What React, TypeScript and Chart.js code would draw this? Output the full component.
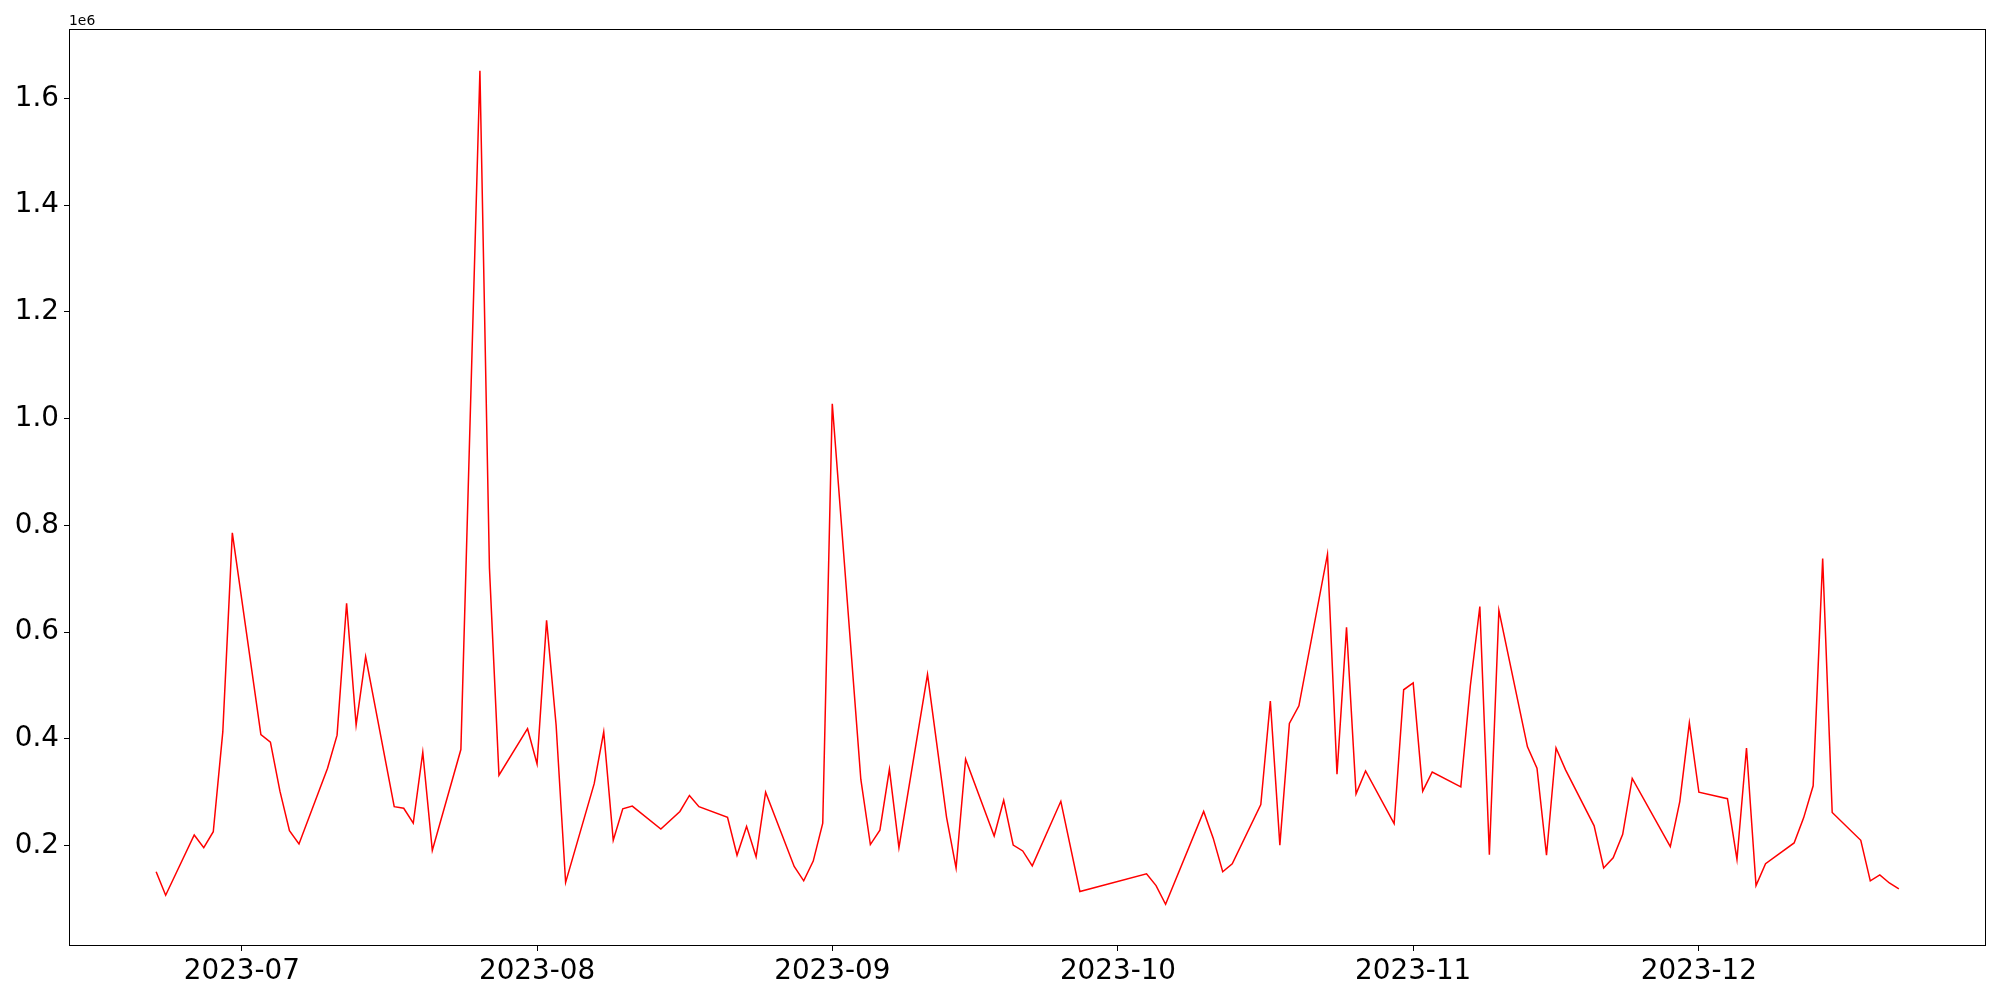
import React, { useEffect, useRef } from "react";
import Chart from "chart.js/auto";

// Trading dates (weekdays, holidays skipped)
const dates: string[] = [
  "2023-06-22", "2023-06-23", "2023-06-26", "2023-06-27", "2023-06-28", "2023-06-29", "2023-06-30",
  "2023-07-03", "2023-07-04", "2023-07-05", "2023-07-06", "2023-07-07",
  "2023-07-10", "2023-07-11", "2023-07-12", "2023-07-13", "2023-07-14",
  "2023-07-17", "2023-07-18", "2023-07-19", "2023-07-20", "2023-07-21",
  "2023-07-24", "2023-07-26", "2023-07-27", "2023-07-28",
  "2023-07-31", "2023-08-01", "2023-08-02", "2023-08-03", "2023-08-04",
  "2023-08-07", "2023-08-08", "2023-08-09", "2023-08-10", "2023-08-11",
  "2023-08-14", "2023-08-16", "2023-08-17", "2023-08-18",
  "2023-08-21", "2023-08-22", "2023-08-23", "2023-08-24", "2023-08-25",
  "2023-08-28", "2023-08-29", "2023-08-30", "2023-08-31", "2023-09-01",
  "2023-09-04", "2023-09-05", "2023-09-06", "2023-09-07", "2023-09-08",
  "2023-09-11", "2023-09-13", "2023-09-14", "2023-09-15",
  "2023-09-18", "2023-09-19", "2023-09-20", "2023-09-21", "2023-09-22",
  "2023-09-25", "2023-09-27",
  "2023-10-04", "2023-10-05", "2023-10-06",
  "2023-10-10", "2023-10-11", "2023-10-12", "2023-10-13",
  "2023-10-16", "2023-10-17", "2023-10-18", "2023-10-19", "2023-10-20",
  "2023-10-23", "2023-10-24", "2023-10-25", "2023-10-26", "2023-10-27",
  "2023-10-30", "2023-10-31", "2023-11-01", "2023-11-02", "2023-11-03",
  "2023-11-06", "2023-11-07", "2023-11-08", "2023-11-09", "2023-11-10",
  "2023-11-13", "2023-11-14", "2023-11-15", "2023-11-16", "2023-11-17",
  "2023-11-20", "2023-11-21", "2023-11-22", "2023-11-23", "2023-11-24",
  "2023-11-28", "2023-11-29", "2023-11-30", "2023-12-01",
  "2023-12-04", "2023-12-05", "2023-12-06", "2023-12-07", "2023-12-08",
  "2023-12-11", "2023-12-12", "2023-12-13", "2023-12-14", "2023-12-15",
  "2023-12-18", "2023-12-19", "2023-12-20", "2023-12-21", "2023-12-22",
];

const values: number[] = [
  151000, 107000, 220000, 196000, 226000, 413000, 786000,
  408000, 394000, 302000, 228000, 203000,
  345000, 407000, 654000, 426000, 554000,
  273000, 270000, 242000, 375000, 191000,
  380000, 1652000, 720000, 332000,
  419000, 353000, 622000, 426000, 131000,
  316000, 413000, 210000, 269000, 274000,
  231000, 264000, 294000, 273000,
  253000, 182000, 236000, 179000, 300000,
  161000, 134000, 171000, 242000, 1028000,
  324000, 202000, 229000, 343000, 196000,
  521000, 253000, 158000, 362000,
  218000, 285000, 201000, 190000, 162000,
  283000, 114000,
  147000, 125000, 90000,
  264000, 214000, 151000, 166000,
  277000, 471000, 201000, 429000, 462000,
  746000, 334000, 609000, 297000, 340000,
  241000, 492000, 505000, 302000, 338000,
  310000, 499000, 648000, 183000, 641000,
  385000, 345000, 182000, 383000, 342000,
  237000, 158000, 177000, 221000, 326000,
  198000, 283000, 430000, 300000,
  288000, 174000, 383000, 125000, 166000,
  205000, 252000, 312000, 738000, 262000,
  210000, 134000, 145000, 130000, 119000,
];

const xTickLabels: string[] = ["2023-07", "2023-08", "2023-09", "2023-10", "2023-11", "2023-12"];
const yTickValues: number[] = [200000, 400000, 600000, 800000, 1000000, 1200000, 1400000, 1600000];
const OFFSET_LABEL = "1e6";
const SCALE = 1e6;

const toMs = (s: string) => {
  const [y, m, d] = s.split("-").map(Number);
  return Date.UTC(y, m - 1, d);
};

export default function App() {
  const ref = useRef<HTMLCanvasElement | null>(null);

  useEffect(() => {
    if (!ref.current) return;
    const pts = dates.map((d, i) => ({ x: toMs(d), y: values[i] }));
    const xs = pts.map((p) => p.x);
    const ys = values;
    const xMin0 = Math.min(...xs), xMax0 = Math.max(...xs);
    const yMin0 = Math.min(...ys), yMax0 = Math.max(...ys);
    const xm = (xMax0 - xMin0) * 0.05;
    const ym = (yMax0 - yMin0) * 0.05;
    const xTicks = xTickLabels.map((l) => toMs(l + "-01"));

    const framePlugin = {
      id: "frame",
      afterDraw(chart: any) {
        const { ctx, chartArea: a } = chart;
        ctx.save();
        ctx.strokeStyle = "#000";
        ctx.lineWidth = 1;
        ctx.strokeRect(Math.round(a.left) + 0.5, Math.round(a.top) + 0.5, Math.round(a.right - a.left) - 1, Math.round(a.bottom - a.top) - 1);
        ctx.fillStyle = "#000";
        ctx.font = '13.9px "DejaVu Sans"';
        ctx.textAlign = "left";
        ctx.textBaseline = "alphabetic";
        ctx.fillText(OFFSET_LABEL, a.left, a.top - 4);
        ctx.restore();
      },
    };

    const chart = new Chart(ref.current, {
      type: "line",
      data: {
        datasets: [
          {
            data: pts,
            borderColor: "#ff0000",
            borderWidth: 1.5,
            pointRadius: 0,
            tension: 0,
            fill: false,
          },
        ],
      },
      options: {
        responsive: false,
        animation: false,
        devicePixelRatio: 1,
        layout: { padding: { left: 0, top: 29, right: 14, bottom: 0 } },
        plugins: { legend: { display: false }, tooltip: { enabled: false } },
        scales: {
          x: {
            type: "linear",
            min: xMin0 - xm,
            max: xMax0 + xm,
            afterBuildTicks: (s: any) => {
              s.ticks = xTicks.map((v) => ({ value: v }));
            },
            afterFit: (s: any) => {
              s.height = 54;
            },
            ticks: {
              autoSkip: false,
              maxRotation: 0,
              padding: 4,
              color: "#000",
              font: { family: "DejaVu Sans", size: 27.8 },
              callback: (v: any) => {
                const d = new Date(Number(v));
                return `${d.getUTCFullYear()}-${String(d.getUTCMonth() + 1).padStart(2, "0")}`;
              },
            },
            grid: { display: true, drawOnChartArea: false, drawTicks: true, tickLength: 5, color: "#000", lineWidth: 1 },
            border: { display: false },
          },
          y: {
            type: "linear",
            min: yMin0 - ym,
            max: yMax0 + ym,
            afterBuildTicks: (s: any) => {
              s.ticks = yTickValues.map((v) => ({ value: v }));
            },
            afterFit: (s: any) => {
              s.width = 69;
            },
            ticks: {
              autoSkip: false,
              padding: 5,
              color: "#000",
              font: { family: "DejaVu Sans", size: 27.8 },
              callback: (v: any) => (Number(v) / SCALE).toFixed(1),
            },
            grid: { display: true, drawOnChartArea: false, drawTicks: true, tickLength: 5, color: "#000", lineWidth: 1 },
            border: { display: false },
          },
        },
      },
      plugins: [framePlugin],
    });
    return () => chart.destroy();
  }, []);

  return (
    <div style={{ position: "fixed", left: 0, top: 0, width: 2000, height: 1000, background: "#fff" }}>
      <canvas ref={ref} width={2000} height={1000} style={{ display: "block", width: 2000, height: 1000 }} />
    </div>
  );
}
